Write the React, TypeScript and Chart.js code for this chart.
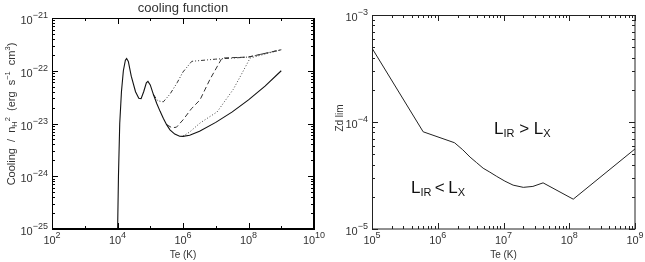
import React, { useEffect, useRef } from "react";
import { Chart, registerables } from "chart.js";

Chart.register(...registerables);

// ---------- Left panel: cooling function ----------
const solidT = [1.0e4, 1.07e4, 1.17e4, 1.32e4, 1.51e4, 1.74e4, 1.9e4, 2.14e4, 2.63e4, 3.55e4, 4.47e4, 5.25e4, 6.3e4, 7.6e4, 8.5e4, 1.0e5, 1.26e5, 1.58e5, 2.0e5, 2.5e5, 3.16e5, 4.0e5, 5.6e5, 7.9e5, 1.0e6, 1.6e6, 3.2e6, 1.0e7, 3.2e7, 1.0e8, 3.2e8, 1.0e9];
const solidL = [7e-26, 1.0e-24, 1.0e-23, 4.0e-23, 1.0e-22, 1.58e-22, 1.7e-22, 1.5e-22, 7.9e-23, 4.0e-23, 3.0e-23, 2.95e-23, 4.0e-23, 5.9e-23, 6.3e-23, 5.4e-23, 3.5e-23, 2.4e-23, 1.7e-23, 1.26e-23, 9.5e-24, 7.6e-24, 6.3e-24, 5.75e-24, 5.7e-24, 6.0e-24, 7.1e-24, 1.05e-23, 1.66e-23, 2.8e-23, 5.1e-23, 1.0e-22];

const dashDotT = [1.26e5, 1.7e5, 2.5e5, 4.0e5, 6.6e5, 1.0e6, 1.86e6, 1.0e7, 1.0e8, 1.0e9];
const dashDotL = [3.5e-23, 2.7e-23, 2.57e-23, 3.6e-23, 5.9e-23, 9.5e-23, 1.51e-22, 1.66e-22, 1.82e-22, 2.5e-22];

const dashedT = [3.2e5, 4.6e5, 6.3e5, 1.0e6, 1.8e6, 3.3e6, 6.6e6, 1.55e7, 1.0e8, 1.0e9];
const dashedL = [9.5e-24, 8.3e-24, 8.5e-24, 1.17e-23, 1.9e-23, 2.8e-23, 6.8e-23, 1.74e-22, 1.82e-22, 2.5e-22];

const dottedT = [1.0e6, 1.6e6, 3.3e6, 1.1e7, 3.4e7, 5.5e7, 1.12e8, 1.0e9];
const dottedL = [5.75e-24, 6.9e-24, 1.02e-23, 1.66e-23, 4.4e-23, 7.6e-23, 1.74e-22, 2.5e-22];

const leftXMajor = [1e2, 1e4, 1e6, 1e8, 1e10];
const leftXMajorExp = ["2", "4", "6", "8", "10"];
const leftXMinor = [1e3, 1e5, 1e7, 1e9];
const leftYMajor = [1e-25, 1e-24, 1e-23, 1e-22, 1e-21];
const leftYMajorExp = ["\u221225", "\u221224", "\u221223", "\u221222", "\u221221"];

// ---------- Right panel: Zd lim ----------
const zdT = [1.0e5, 6.0e5, 1.8e6, 2.4e6, 3.1e6, 3.9e6, 4.9e6, 6.2e6, 7.9e6, 1.05e7, 1.4e7, 2.0e7, 2.8e7, 4.0e7, 1.15e8, 1.0e9];
const zdV = [4.9e-4, 8.1e-5, 6.4e-5, 5.5e-5, 4.7e-5, 4.17e-5, 3.7e-5, 3.4e-5, 3.1e-5, 2.8e-5, 2.57e-5, 2.45e-5, 2.5e-5, 2.7e-5, 1.9e-5, 5.6e-5];

const rightXMajor = [1e5, 1e6, 1e7, 1e8, 1e9];
const rightXMajorExp = ["5", "6", "7", "8", "9"];
const rightYMajor = [1e-5, 1e-4, 1e-3];
const rightYMajorExp = ["\u22125", "\u22124", "\u22123"];
const minorMult = [2, 3, 4, 5, 6, 7, 8, 9];

const FONT = "'Liberation Sans', Arial, Helvetica, sans-serif";

function pts(xs: number[], ys: number[]) {
  return xs.map((x, i) => ({ x, y: ys[i] }));
}

function logMinors(decades: number[]) {
  const out: number[] = [];
  for (let i = 0; i < decades.length - 1; i++) {
    for (const m of minorMult) out.push(decades[i] * m);
  }
  return out;
}

type Piece = { t: string; size: number; dy: number };

function measurePieces(ctx: CanvasRenderingContext2D, pieces: Piece[]) {
  let w = 0;
  for (const p of pieces) {
    ctx.font = `${p.size}px ${FONT}`;
    w += ctx.measureText(p.t).width;
  }
  return w;
}

function drawPieces(ctx: CanvasRenderingContext2D, pieces: Piece[], x: number, y: number) {
  let cx = x;
  ctx.textAlign = "left";
  ctx.textBaseline = "alphabetic";
  for (const p of pieces) {
    ctx.font = `${p.size}px ${FONT}`;
    ctx.fillText(p.t, cx, y + p.dy);
    cx += ctx.measureText(p.t).width;
  }
}

function powPieces(exp: string): Piece[] {
  return [
    { t: "10", size: 11, dy: 0 },
    { t: exp, size: 9, dy: -6 },
  ];
}

const idlAxes = {
  id: "idlAxes",
  afterDraw(chart: any, _args: any, o: any) {
    const { ctx, chartArea: a, scales } = chart;
    const xs = scales.x;
    const ys = scales.y;
    ctx.save();
    ctx.strokeStyle = o.axisColor;
    const line = (x1: number, y1: number, x2: number, y2: number) => {
      ctx.beginPath();
      ctx.moveTo(x1, y1);
      ctx.lineTo(x2, y2);
      ctx.stroke();
    };
    // frame: top/left thin, bottom/right as configured
    ctx.lineWidth = 1;
    line(a.left + 0.5, a.top + 0.5, a.right, a.top + 0.5);
    line(a.left + 0.5, a.top, a.left + 0.5, a.bottom);
    ctx.lineWidth = o.lineWidth;
    line(a.left, a.bottom, a.right + o.lineWidth / 2, a.bottom);
    line(a.right, a.top, a.right, a.bottom);
    ctx.lineWidth = 1;
    const xt = (vals: number[], len: number) => {
      for (const v of vals) {
        const px = Math.round(xs.getPixelForValue(v)) + 0.5;
        line(px, a.bottom, px, a.bottom - len);
        line(px, a.top, px, a.top + len);
      }
    };
    const yt = (vals: number[], len: number) => {
      for (const v of vals) {
        const py = Math.round(ys.getPixelForValue(v)) + 0.5;
        line(a.left, py, a.left + len, py);
        line(a.right, py, a.right - len, py);
      }
    };
    xt(o.xMajor, 6);
    xt(o.xMinor, 3);
    yt(o.yMajor, 6);
    yt(o.yMinor, 3);

    ctx.fillStyle = o.textColor;
    o.xMajor.forEach((v: number, i: number) => {
      const pcs = powPieces(o.xExp[i]);
      const w = measurePieces(ctx, pcs);
      const px = xs.getPixelForValue(v);
      drawPieces(ctx, pcs, px - w / 2, a.bottom + 15);
    });
    o.yMajor.forEach((v: number, i: number) => {
      const pcs = powPieces(o.yExp[i]);
      const w = measurePieces(ctx, pcs);
      const py = ys.getPixelForValue(v);
      drawPieces(ctx, pcs, a.left - 4 - w, py + 6);
    });
    const xw = measurePieces(ctx, o.xTitle);
    drawPieces(ctx, o.xTitle, (a.left + a.right) / 2 - xw / 2, o.xTitleY);
    const yw = measurePieces(ctx, o.yTitle);
    ctx.save();
    ctx.translate(o.yTitleX, o.yTitleCY);
    ctx.rotate(-Math.PI / 2);
    drawPieces(ctx, o.yTitle, -yw / 2, 0);
    ctx.restore();
    if (o.notes) {
      ctx.fillStyle = o.noteColor;
      for (const n of o.notes) drawPieces(ctx, n.pieces, n.x, n.y);
    }
    if (o.title) {
      ctx.fillStyle = o.textColor;
      const tw = measurePieces(ctx, o.title);
      drawPieces(ctx, o.title, (a.left + a.right) / 2 - tw / 2, o.titleY);
    }
    ctx.restore();
  },
};

function lineDs(data: any, dash: number[], color: string, width: number) {
  return {
    data,
    borderColor: color,
    borderWidth: width,
    borderDash: dash,
    pointRadius: 0,
    fill: false,
    tension: 0,
  };
}

export default function App() {
  const leftRef = useRef<HTMLCanvasElement>(null);
  const rightRef = useRef<HTMLCanvasElement>(null);

  useEffect(() => {
    const left = new Chart(leftRef.current as HTMLCanvasElement, {
      type: "line",
      data: {
        datasets: [
          lineDs(pts(solidT, solidL), [], "#111", 1.1),
          lineDs(pts(dashDotT, dashDotL), [4, 2, 1, 2, 1, 2], "#333", 1),
          lineDs(pts(dashedT, dashedL), [5, 3], "#333", 1),
          lineDs(pts(dottedT, dottedL), [1, 2], "#444", 1),
        ],
      },
      options: {
        responsive: false,
        devicePixelRatio: 1,
        animation: false,
        layout: { padding: { left: 52, top: 18, right: 16, bottom: 33 } },
        plugins: {
          legend: { display: false },
          tooltip: { enabled: false },
          idlAxes: {
            axisColor: "#000",
            lineWidth: 2,
            textColor: "#333",
            xMajor: leftXMajor,
            xExp: leftXMajorExp,
            xMinor: leftXMinor,
            yMajor: leftYMajor,
            yExp: leftYMajorExp,
            yMinor: logMinors(leftYMajor),
            xTitle: [{ t: "Te (K)", size: 10, dy: 0 }],
            xTitleY: 258,
            yTitle: [
              { t: "Cooling  /  n", size: 11, dy: 0 },
              { t: "H", size: 7.5, dy: 2 },
              { t: "2", size: 7.5, dy: -5 },
              { t: "  (erg  s", size: 11, dy: 0 },
              { t: "\u22121", size: 7.5, dy: -5 },
              { t: "  cm", size: 11, dy: 0 },
              { t: "3", size: 7.5, dy: -5 },
              { t: ")", size: 11, dy: 0 },
            ],
            yTitleX: 15,
            yTitleCY: 114,
            title: [{ t: "cooling function", size: 13, dy: 0 }],
            titleY: 12,
          },
        } as any,
        scales: {
          x: { type: "logarithmic", min: 1e2, max: 1e10, display: false },
          y: { type: "logarithmic", min: 1e-25, max: 1e-21, display: false },
        },
      },
      plugins: [idlAxes as any],
    });

    const right = new Chart(rightRef.current as HTMLCanvasElement, {
      type: "line",
      data: {
        datasets: [lineDs(pts(zdT, zdV), [], "#222", 1)],
      },
      options: {
        responsive: false,
        devicePixelRatio: 1,
        animation: false,
        layout: { padding: { left: 42, top: 15, right: 10, bottom: 33 } },
        plugins: {
          legend: { display: false },
          tooltip: { enabled: false },
          idlAxes: {
            axisColor: "#222",
            lineWidth: 1,
            textColor: "#333",
            xMajor: rightXMajor,
            xExp: rightXMajorExp,
            xMinor: logMinors(rightXMajor),
            yMajor: rightYMajor,
            yExp: rightYMajorExp,
            yMinor: logMinors(rightYMajor),
            xTitle: [{ t: "Te (K)", size: 10, dy: 0 }],
            xTitleY: 258,
            yTitle: [{ t: "Zd lim", size: 10, dy: 0 }],
            yTitleX: 13,
            yTitleCY: 118,
            noteColor: "#111",
            notes: [
              {
                x: 164,
                y: 134,
                pieces: [
                  { t: "L", size: 17, dy: 0 },
                  { t: "IR", size: 11, dy: 3 },
                  { t: " > ", size: 17, dy: 0 },
                  { t: "L", size: 17, dy: 0 },
                  { t: "X", size: 11, dy: 3 },
                ],
              },
              {
                x: 81,
                y: 193,
                pieces: [
                  { t: "L", size: 17, dy: 0 },
                  { t: "IR", size: 11, dy: 3 },
                  { t: "\u2009<\u2009", size: 17, dy: 0 },
                  { t: "L", size: 17, dy: 0 },
                  { t: "X", size: 11, dy: 3 },
                ],
              },
            ],
          },
        } as any,
        scales: {
          x: { type: "logarithmic", min: 1e5, max: 1e9, display: false },
          y: { type: "logarithmic", min: 1e-5, max: 1e-3, display: false },
        },
      },
      plugins: [idlAxes as any],
    });

    return () => {
      left.destroy();
      right.destroy();
    };
  }, []);

  return (
    <div style={{ position: "absolute", left: 0, top: 0, width: 645, height: 262, background: "#fff" }}>
      <canvas ref={leftRef} width={330} height={262} style={{ position: "absolute", left: 0, top: 0, width: 330, height: 262 }} />
      <canvas ref={rightRef} width={315} height={262} style={{ position: "absolute", left: 330, top: 0, width: 315, height: 262 }} />
    </div>
  );
}
